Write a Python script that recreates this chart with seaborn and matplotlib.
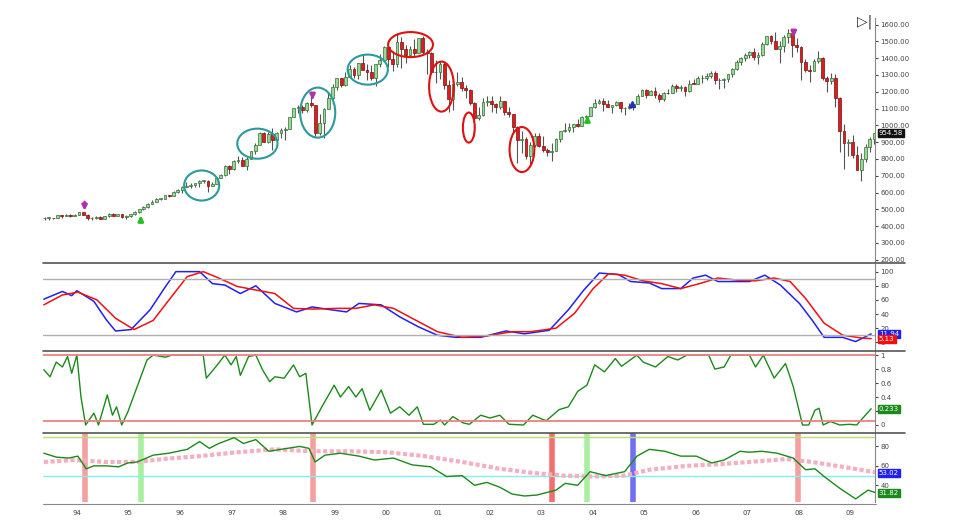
import numpy as np
import pandas as pd
import matplotlib
matplotlib.use("Agg")
import matplotlib.pyplot as plt
import seaborn as sns
from matplotlib.patches import Ellipse

sns.set_style("white")
plt.rcParams['font.family'] = ['DejaVu Sans']

# Velas mensuales, de mayo 1993 a junio 2009 (la apertura es el cierre anterior)
cierres = [450, 451, 448, 464, 459, 468, 462, 466,
           482, 467, 446, 451, 457, 444, 458, 475, 463, 472, 454, 459,
           470, 487, 501, 515, 533, 545, 562, 562, 584, 582, 605, 616,
           636, 640, 646, 654, 669, 671, 640, 652, 687, 705, 757, 741,
           786, 791, 757, 801, 848, 885, 954, 899, 947, 915, 955, 970,
           980, 1049, 1102, 1112, 1091, 1134, 1121, 957, 1017, 1099, 1164, 1229,
           1280, 1238, 1286, 1335, 1302, 1373, 1329, 1320, 1283, 1363, 1389, 1469,
           1394, 1366, 1499, 1452, 1421, 1455, 1431, 1518, 1437, 1429, 1315, 1320,
           1366, 1240, 1160, 1249, 1256, 1224, 1211, 1134, 1041, 1060, 1139, 1148,
           1130, 1107, 1147, 1077, 1067, 990, 912, 916, 815, 886, 936, 880,
           856, 841, 848, 917, 964, 975, 990, 1008, 996, 1051, 1058, 1112,
           1131, 1145, 1126, 1107, 1121, 1141, 1102, 1104, 1115, 1130, 1174, 1212,
           1181, 1204, 1181, 1157, 1192, 1191, 1234, 1220, 1229, 1207, 1249, 1248,
           1280, 1281, 1295, 1311, 1270, 1270, 1277, 1304, 1336, 1378, 1401, 1418,
           1438, 1407, 1421, 1482, 1531, 1503, 1455, 1474, 1527, 1549, 1481, 1468,
           1379, 1331, 1323, 1386, 1400, 1280, 1267, 1283, 1165, 969, 896, 903,
           826, 735, 798, 873, 919, 954.58]
maximos = [453, 454, 451, 466, 464, 471, 470, 471,
           485, 482, 470, 454, 460, 459, 461, 477, 476, 475, 474, 466,
           472, 489, 503, 517, 535, 557, 565, 566, 586, 587, 607, 622,
           638, 664, 657, 659, 673, 675, 673, 664, 690, 708, 762, 762,
           794, 817, 814, 812, 849, 897, 962, 960, 959, 984, 963, 986,
           993, 1051, 1106, 1124, 1124, 1139, 1187, 1122, 1067, 1104, 1193, 1245,
           1285, 1280, 1316, 1362, 1347, 1374, 1421, 1365, 1361, 1364, 1427, 1474,
           1478, 1445, 1553, 1527, 1481, 1475, 1517, 1521, 1531, 1454, 1439, 1389,
           1384, 1376, 1268, 1269, 1316, 1286, 1239, 1218, 1142, 1111, 1163, 1173,
           1176, 1131, 1173, 1148, 1107, 1070, 994, 965, 929, 901, 954, 955,
           935, 865, 896, 925, 965, 1016, 1015, 1011, 1040, 1054, 1063, 1112,
           1158, 1159, 1164, 1150, 1123, 1146, 1141, 1109, 1131, 1142, 1188, 1217,
           1217, 1212, 1230, 1192, 1199, 1219, 1245, 1246, 1243, 1234, 1270, 1276,
           1295, 1297, 1310, 1326, 1326, 1284, 1283, 1307, 1340, 1390, 1407, 1431,
           1441, 1462, 1439, 1498, 1535, 1541, 1556, 1504, 1538, 1576, 1545, 1523,
           1471, 1396, 1359, 1397, 1440, 1405, 1292, 1314, 1304, 1169, 1007, 919,
           944, 877, 833, 888, 930, 956]
minimos = [437, 439, 441, 446, 450, 458, 455, 460,
           465, 464, 436, 435, 443, 442, 443, 457, 461, 461, 449, 445,
           457, 469, 481, 499, 510, 531, 544, 555, 562, 576, 581, 597,
           597, 632, 627, 631, 635, 656, 605, 639, 651, 685, 701, 713,
           737, 774, 756, 733, 797, 830, 885, 900, 897, 856, 912, 924,
           912, 980, 1048, 1076, 1075, 1078, 1112, 939, 945, 923, 1098, 1130,
           1208, 1226, 1232, 1283, 1280, 1278, 1333, 1269, 1268, 1233, 1348, 1386,
           1350, 1326, 1346, 1339, 1374, 1415, 1413, 1431, 1421, 1305, 1308, 1255,
           1275, 1215, 1081, 1091, 1232, 1202, 1165, 1124, 945, 1031, 1053, 1117,
           1081, 1074, 1100, 1063, 1048, 952, 776, 838, 800, 768, 872, 871,
           840, 817, 789, 847, 903, 963, 962, 960, 989, 995, 1032, 1053,
           1105, 1125, 1087, 1107, 1076, 1113, 1078, 1060, 1100, 1090, 1128, 1172,
           1163, 1180, 1164, 1137, 1146, 1188, 1194, 1201, 1206, 1174, 1200, 1245,
           1245, 1253, 1268, 1284, 1245, 1219, 1224, 1260, 1290, 1327, 1361, 1385,
           1403, 1389, 1364, 1416, 1479, 1485, 1452, 1371, 1439, 1489, 1407, 1435,
           1271, 1316, 1257, 1324, 1374, 1272, 1200, 1247, 1107, 840, 741, 815,
           805, 735, 667, 783, 843, 888]

# Estocástico
k_t = [1993.36, 1993.72, 1993.9, 1994.0, 1994.33, 1994.57, 1994.75, 1995.05, 1995.42, 1995.72,
       1995.92, 1996.38, 1996.63, 1996.87, 1997.17, 1997.47, 1997.84, 1998.26, 1998.56, 1998.93,
       1999.23, 1999.47, 1999.9, 2000.26, 2000.62, 2000.99, 2001.35, 2001.83, 2002.32, 2002.68,
       2003.16, 2003.53, 2003.83, 2004.13, 2004.5, 2004.74, 2005.1, 2005.34, 2005.71, 2005.95,
       2006.19, 2006.43, 2006.8, 2007.04, 2007.34, 2007.64, 2008.01, 2008.25, 2008.49, 2008.85,
       2009.1, 2009.4]
k_val = [61, 72, 66, 73, 58, 32, 16, 18, 46, 79,
         100, 100, 83, 81, 69, 80, 55, 43, 50, 46,
         43, 55, 53, 36, 22, 10, 7, 7, 16, 12,
         17, 46, 74, 98, 96, 86, 84, 76, 76, 91,
         95, 86, 86, 86, 95, 81, 55, 32, 7, 7,
         1, 11.94]
d_t = [1993.36, 1993.72, 1994.02, 1994.39, 1994.75, 1995.11, 1995.48, 1995.84, 1996.14, 1996.45,
       1996.75, 1997.11, 1997.47, 1997.84, 1998.2, 1998.56, 1999.05, 1999.41, 1999.77, 2000.14,
       2000.5, 2000.99, 2001.47, 2001.95, 2002.44, 2002.8, 2003.29, 2003.65, 2004.01, 2004.31,
       2004.62, 2004.98, 2005.34, 2005.71, 2006.07, 2006.43, 2006.8, 2007.16, 2007.52, 2007.83,
       2008.13, 2008.49, 2008.85, 2009.22, 2009.4]
d_val = [53, 67, 71, 60, 34, 18, 31, 65, 93, 100,
         91, 79, 74, 69, 48, 47, 48, 48, 53, 48,
         34, 15, 7, 9, 15, 15, 20, 41, 76, 97,
         95, 87, 83, 76, 83, 91, 88, 87, 91, 86,
         62, 27, 10, 6, 5.13]

# Oscilador 0-1
o_t = [1993.36, 1993.48, 1993.6, 1993.72, 1993.82, 1993.9, 1994.0, 1994.08, 1994.17, 1994.33,
       1994.42, 1994.59, 1994.69, 1994.77, 1994.87, 1994.99, 1995.17, 1995.36, 1995.48, 1995.72,
       1995.84, 1996.45, 1996.51, 1996.69, 1996.87, 1996.99, 1997.09, 1997.17, 1997.33, 1997.47,
       1997.6, 1997.74, 1997.84, 1998.02, 1998.2, 1998.32, 1998.44, 1998.56, 1998.75, 1998.99,
       1999.11, 1999.27, 1999.41, 1999.53, 1999.68, 1999.9, 2000.08, 2000.26, 2000.44, 2000.6,
       2000.72, 2000.92, 2001.05, 2001.13, 2001.29, 2001.49, 2001.61, 2001.83, 2002.01, 2002.2,
       2002.38, 2002.66, 2002.84, 2003.1, 2003.35, 2003.53, 2003.71, 2003.89, 2004.04, 2004.23,
       2004.44, 2004.56, 2004.86, 2004.98, 2005.22, 2005.46, 2005.65, 2005.83, 2006.25, 2006.37,
       2006.55, 2006.68, 2007.04, 2007.16, 2007.31, 2007.52, 2007.74, 2007.89, 2008.07, 2008.19,
       2008.31, 2008.39, 2008.47, 2008.61, 2008.79, 2008.98, 2009.12, 2009.4]
o_val = [0.79, 0.69, 0.9, 0.83, 0.98, 0.74, 1.0, 0.4, 0.0, 0.17,
         0.0, 0.43, 0.14, 0.26, 0.0, 0.19, 0.55, 0.93, 1.0, 0.97,
         1.0, 1.0, 0.67, 0.83, 1.0, 0.86, 0.98, 0.71, 0.98, 1.0,
         0.79, 0.62, 0.69, 0.67, 0.86, 0.69, 0.74, 0.0, 0.26, 0.57,
         0.4, 0.55, 0.4, 0.52, 0.21, 0.5, 0.17, 0.26, 0.14, 0.26,
         0.01, 0.01, 0.07, 0.0, 0.12, 0.03, 0.01, 0.14, 0.1, 0.14,
         0.01, 0.0, 0.14, 0.06, 0.22, 0.26, 0.48, 0.57, 0.86, 0.76,
         0.95, 0.84, 1.0, 0.9, 0.83, 0.98, 0.93, 1.0, 1.0, 0.8,
         0.83, 1.0, 1.0, 0.83, 1.0, 0.67, 0.88, 0.55, 0.0, 0.0,
         0.21, 0.24, 0.0, 0.05, 0.0, 0.01, 0.0, 0.233]

# Panel inferior: línea verde y media rosa
g_t = [1993.36, 1993.6, 1993.84, 1994.02, 1994.18, 1994.33, 1994.57, 1994.81, 1994.99, 1995.17,
       1995.48, 1995.78, 1996.14, 1996.38, 1996.57, 1996.75, 1997.05, 1997.23, 1997.47, 1997.72,
       1998.08, 1998.32, 1998.5, 1998.62, 1998.81, 1999.11, 1999.47, 1999.77, 2000.14, 2000.5,
       2000.86, 2001.17, 2001.47, 2001.71, 2001.95, 2002.2, 2002.44, 2002.68, 2002.92, 2003.29,
       2003.47, 2003.71, 2003.95, 2004.25, 2004.62, 2004.86, 2005.1, 2005.4, 2005.71, 2006.01,
       2006.31, 2006.55, 2006.86, 2007.04, 2007.28, 2007.58, 2007.89, 2008.13, 2008.31, 2008.49,
       2008.79, 2009.1, 2009.34, 2009.52]
g_val = [73, 69, 68, 70, 57, 60, 60, 59, 63, 64,
         71, 73, 77, 85, 78, 83, 89, 83, 87, 75,
         78, 80, 78, 64, 71, 73, 70, 66, 68, 61,
         59, 49, 50, 40, 43, 38, 31, 29, 30, 35,
         42, 40, 54, 50, 54, 70, 77, 75, 70, 70,
         63, 66, 75, 74, 75, 73, 68, 56, 57, 49,
         37, 26, 35, 31.82]
m_t = [1993.36, 1993.96, 1994.57, 1995.17, 1995.66, 1996.38, 1997.11, 1997.84, 1998.56, 1999.29,
       2000.02, 2000.74, 2001.47, 2002.2, 2002.8, 2003.41, 2004.01, 2004.62, 2005.1, 2005.83,
       2006.55, 2007.28, 2007.76, 2008.25, 2008.85, 2009.52]
m_val = [64, 66, 64, 64, 67, 70, 74, 77, 75, 75,
         74, 70, 64, 57, 53, 50, 49, 50, 56, 60,
         62, 65, 67, 64, 59, 53.02]

# Bandas verticales del panel inferior
bandas_t = [1994.15, 1995.25, 1998.58, 2003.22, 2003.9, 2004.78, 2007.98]
bandas_c = ["#f4a0a0", "#a8f0a0", "#f4a0a0", "#f07070", "#a8f0a0", "#7070f0", "#f4a0a0"]

# Elipses de anotación: centro (año, precio), ancho (años), alto (puntos)
elipses_t = [1996.42, 1997.5, 1998.67, 1999.64, 2000.47, 2001.07, 2001.6, 2002.63]
elipses_p = [642, 891, 1076, 1332, 1481, 1231, 987, 856]
elipses_w = [0.68, 0.78, 0.68, 0.78, 0.87, 0.48, 0.23, 0.48]
elipses_h = [179, 179, 298, 179, 149, 298, 179, 268]
elipses_c = ["#2a9a9a"] * 4 + ["#e01010"] * 4

anios = list(range(1994, 2010))
etiquetas_anio = [f"{a % 100:02d}" for a in anios]

velas = pd.DataFrame({"cierre": cierres, "max": maximos, "min": minimos})
velas["apertura"] = [448] + cierres[:-1]
velas["t"] = [1993 + (4 + i + 0.5) / 12 for i in range(len(velas))]

fig = plt.figure(figsize=(9.73, 5.32), dpi=100)
x0, ancho = 0.044, 0.855
ax1 = fig.add_axes([x0, 0.508, ancho, 0.459])
ax2 = fig.add_axes([x0, 0.342, ancho, 0.162])
ax3 = fig.add_axes([x0, 0.188, ancho, 0.152])
ax4 = fig.add_axes([x0, 0.056, ancho, 0.131])
ejes = [ax1, ax2, ax3, ax4]
xlim = (1993.34, 2009.47)

# Velas
sube = velas["cierre"] >= velas["apertura"]
ax1.vlines(velas["t"], velas["min"], velas["max"], color="#555555", lw=0.8, zorder=1)
cuerpo = (velas["cierre"] - velas["apertura"]).abs().clip(lower=3)
base = velas[["cierre", "apertura"]].min(axis=1)
ax1.bar(velas["t"][sube], cuerpo[sube], bottom=base[sube], width=0.055,
        color="#9ad89a", edgecolor="#2f6f2f", lw=0.5, zorder=2)
ax1.bar(velas["t"][~sube], cuerpo[~sube], bottom=base[~sube], width=0.055,
        color="#dd1c1c", edgecolor="#7a1010", lw=0.5, zorder=2)
for t, p, w, h, c in zip(elipses_t, elipses_p, elipses_w, elipses_h, elipses_c):
    ax1.add_patch(Ellipse((t, p), w, h, fill=False, ec=c, lw=1.5, zorder=3))
# Flechas de señal
for t, p0, p1, c in [(1994.15, 560, 475, "#b030b0"), (1995.24, 410, 480, "#20c020"),
                     (1998.57, 1200, 1135, "#b030b0"), (2003.9, 1020, 1075, "#20c020"),
                     (2007.9, 1570, 1510, "#b030b0")]:
    ax1.annotate("", xy=(t, p1), xytext=(t, p0),
                 arrowprops=dict(arrowstyle="-|>", color=c, lw=2, mutation_scale=7))
ax1.plot([2004.76], [1128], marker="^", color="#2030c0", ms=4)
ax1.set_ylim(188, 1642)
ax1.set_yticks(range(200, 1700, 100))
ax1.set_yticklabels([f"{v:.2f}" for v in range(200, 1700, 100)])
ax1.text(2009.28, 1615, "▷|", fontsize=10, color="#333333", ha="center", va="center")

# Estocástico
sns.lineplot(x=k_t, y=k_val, ax=ax2, color="#2020f0", lw=1.1)
sns.lineplot(x=d_t, y=d_val, ax=ax2, color="#f01010", lw=1.1)
for v in (90, 10):
    ax2.axhline(v, color="#b0b0b0", lw=1)
ax2.set_ylim(-11, 111)
ax2.set_yticks([0, 20, 40, 60, 80, 100])

# Oscilador
sns.lineplot(x=o_t, y=o_val, ax=ax3, color="#1a8a1a", lw=1)
for v in (1.0, 0.06):
    ax3.axhline(v, color="#f08080", lw=1.3)
ax3.set_ylim(-0.1, 1.057)
ax3.set_yticks([0, 0.2, 0.4, 0.6, 0.8, 1])
ax3.set_yticklabels(["0", "0.2", "0.4", "0.6", "0.8", "1"])

# Panel inferior
for t, c in zip(bandas_t, bandas_c):
    ax4.axvline(t, color=c, lw=4, zorder=0)
ax4.axhline(90, color="#b8e070", lw=1)
ax4.axhline(50, color="#80f0f0", lw=1)
sns.lineplot(x=m_t, y=m_val, ax=ax4, color="#f4b0c0", lw=3, ls=(0, (1, 0.6)))
sns.lineplot(x=g_t, y=g_val, ax=ax4, color="#1a8a1a", lw=1)
ax4.set_ylim(22.6, 94.3)
ax4.set_yticks([40, 60, 80])
ax4.set_xticks(anios)
ax4.set_xticklabels(etiquetas_anio)

# Etiquetas de último valor
etiquetas = [(ax1, 954.58, "954.58", "#111111"), (ax2, 11.94, "11.94", "#2020f0"),
             (ax2, 5.13, "5.13", "#f01010"), (ax3, 0.233, "0.233", "#1a8a1a"),
             (ax4, 53.02, "53.02", "#2020f0"), (ax4, 31.82, "31.82", "#1a8a1a")]
for ax, v, s, c in etiquetas:
    ax.annotate(s, xy=(1.0, v), xycoords=("axes fraction", "data"), xytext=(3, 0),
                textcoords="offset points", fontsize=5, color="white", va="center",
                bbox=dict(boxstyle="square,pad=0.15", fc=c, ec=c))

for ax in ejes:
    ax.set_xlim(*xlim)
    ax.yaxis.tick_right()
    ax.tick_params(axis="y", labelsize=5, colors="#444444", length=2, pad=2)
    ax.tick_params(axis="x", labelsize=5, colors="#444444", length=2)
    for s in ("left", "top", "bottom"):
        ax.spines[s].set_visible(False)
    ax.spines["right"].set_color("#888888")
    ax.set_ylabel("")
    if ax is not ax4:
        ax.set_xticks([])

# Separadores entre paneles
for y in (1 - 263 / 532, 1 - 351 / 532, 1 - 433 / 532):
    fig.add_artist(plt.Line2D([0.044, 0.93], [y, y], color="#555555", lw=1.2))
fig.add_artist(plt.Line2D([0.044, 0.9], [1 - 504 / 532] * 2, color="#888888", lw=0.8))

fig.savefig("out.png", dpi=100)
